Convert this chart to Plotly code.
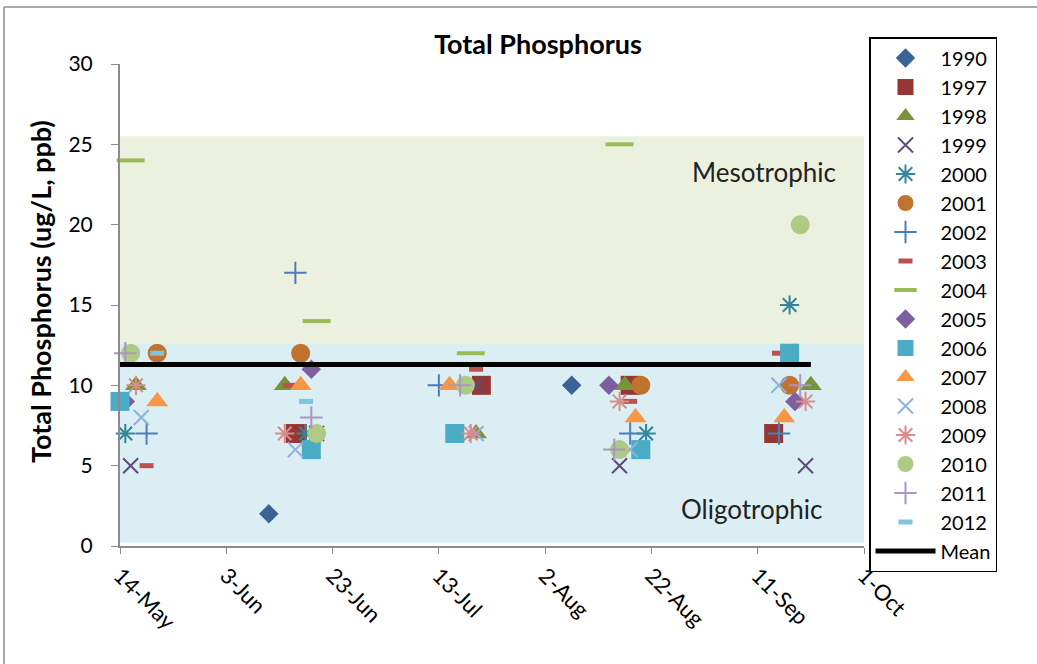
import plotly.graph_objects as go

# ---------------- data ----------------
years = ["1990", "1997", "1998", "1999", "2000", "2001", "2002", "2003", "2004",
         "2005", "2006", "2007", "2008", "2009", "2010", "2011", "2012"]

d1990 = ["2013-06-11", "2013-08-07"]
v1990 = [2, 10]
d1997 = ["2013-06-16", "2013-07-21", "2013-08-18", "2013-09-14"]
v1997 = [7, 10, 10, 7]
d1998 = ["2013-05-17", "2013-06-14", "2013-07-20", "2013-08-17", "2013-09-21"]
v1998 = [10, 10, 7, 10, 10]
d1999 = ["2013-05-16", "2013-06-20", "2013-07-20", "2013-08-16", "2013-09-20"]
v1999 = [5, 7, 10, 5, 5]
d2000 = ["2013-05-15", "2013-06-18", "2013-08-21", "2013-09-17"]
v2000 = [7, 7, 7, 15]
d2001 = ["2013-05-21", "2013-06-17", "2013-08-20", "2013-09-17"]
v2001 = [12, 12, 10, 10]
d2002 = ["2013-05-19", "2013-06-16", "2013-07-13", "2013-08-18", "2013-09-15"]
v2002 = [7, 17, 10, 7, 7]
d2003 = ["2013-05-19", "2013-06-15", "2013-07-20", "2013-08-18", "2013-09-15"]
v2003 = [5, 10, 11, 9, 12]
d2004 = ["2013-05-16", "2013-06-20", "2013-07-19", "2013-08-16"]
v2004 = [24, 14, 12, 25]
d2005 = ["2013-05-15", "2013-06-19", "2013-08-14", "2013-09-18"]
v2005 = [9, 11, 10, 9]
d2006 = ["2013-05-14", "2013-06-19", "2013-07-16", "2013-08-20", "2013-09-17"]
v2006 = [9, 6, 7, 6, 12]
d2007 = ["2013-05-21", "2013-06-17", "2013-07-15", "2013-08-19", "2013-09-16"]
v2007 = [9, 10, 10, 8, 8]
d2008 = ["2013-05-18", "2013-06-16", "2013-07-20", "2013-08-18", "2013-09-15"]
v2008 = [8, 6, 7, 6, 10]
d2009 = ["2013-05-17", "2013-06-14", "2013-07-19", "2013-08-16", "2013-09-20"]
v2009 = [10, 7, 7, 9, 9]
d2010 = ["2013-05-16", "2013-06-20", "2013-07-18", "2013-08-16", "2013-09-19"]
v2010 = [12, 7, 10, 6, 20]
d2011 = ["2013-05-15", "2013-06-19", "2013-07-17", "2013-08-15", "2013-09-19"]
v2011 = [12, 8, 10, 6, 10]
d2012 = ["2013-05-21", "2013-06-18"]
v2012 = [12, 9]

mean_dates = ["2013-05-14", "2013-09-21"]
mean_value = 11.3

oligo_range = [0.2, 12.6]
meso_range = [12.6, 25.5]

x_start = "2013-05-14"
x_end = "2013-10-01"

# ---------------- styles ----------------
styles = {
    "1990": dict(symbol="diamond", color="#3B6396", size=15, lw=0),
    "1997": dict(symbol="square", color="#953735", size=19, lw=0),
    "1998": dict(symbol="triangle-up", color="#77933C", size=19, lw=0),
    "1999": dict(symbol="x-thin-open", color="#604A7B", size=15, lw=2),
    "2000": dict(symbol="asterisk-open", color="#31859C", size=16, lw=2),
    "2001": dict(symbol="circle", color="#C0722E", size=19, lw=0),
    "2002": dict(symbol="cross-thin-open", color="#4A7EBB", size=16, lw=2),
    "2003": dict(symbol="line-ew-open", color="#C0504D", size=10, lw=5),
    "2004": dict(symbol="line-ew-open", color="#9BBB59", size=20, lw=4),
    "2005": dict(symbol="diamond", color="#7D5FA0", size=15, lw=0),
    "2006": dict(symbol="square", color="#4BACC6", size=19, lw=0),
    "2007": dict(symbol="triangle-up", color="#F79646", size=19, lw=0),
    "2008": dict(symbol="x-thin-open", color="#8EB0DA", size=15, lw=2),
    "2009": dict(symbol="asterisk-open", color="#DA8C8A", size=16, lw=2),
    "2010": dict(symbol="circle", color="#AECA84", size=19, lw=0),
    "2011": dict(symbol="cross-thin-open", color="#A996C4", size=16, lw=2),
    "2012": dict(symbol="line-ew-open", color="#7FC4D9", size=10, lw=5),
}

data = {
    "1990": (d1990, v1990), "1997": (d1997, v1997), "1998": (d1998, v1998),
    "1999": (d1999, v1999), "2000": (d2000, v2000), "2001": (d2001, v2001),
    "2002": (d2002, v2002), "2003": (d2003, v2003), "2004": (d2004, v2004),
    "2005": (d2005, v2005), "2006": (d2006, v2006), "2007": (d2007, v2007),
    "2008": (d2008, v2008), "2009": (d2009, v2009), "2010": (d2010, v2010),
    "2011": (d2011, v2011), "2012": (d2012, v2012),
}

FONT = "Lato"

fig = go.Figure()

for y in years:
    d, v = data[y]
    s = styles[y]
    fig.add_trace(go.Scatter(
        x=d, y=v, mode="markers", name=y, cliponaxis=False,
        marker=dict(symbol=s["symbol"], color=s["color"], size=s["size"],
                    line=dict(color=s["color"], width=s["lw"])),
    ))

fig.add_trace(go.Scatter(
    x=mean_dates, y=[mean_value, mean_value], mode="lines", name="Mean",
    line=dict(color="black", width=5),
))

# trophic bands
fig.add_shape(type="rect", xref="paper", yref="y", x0=0, x1=1,
              y0=meso_range[0], y1=meso_range[1], fillcolor="#EBF1DE",
              line=dict(width=0), layer="below")
fig.add_shape(type="rect", xref="paper", yref="y", x0=0, x1=1,
              y0=oligo_range[0], y1=oligo_range[1], fillcolor="#DBEEF4",
              line=dict(width=0), layer="below")

# outer chart border (top and left edges visible)
L, R, T, B = 120, 864, 64, 546
def px_x(p):
    return (p - L) / (R - L)
def px_y(p):
    return (B - p) / (B - T)
fig.add_shape(type="line", xref="paper", yref="paper",
              x0=px_x(4), x1=px_x(1040), y0=px_y(7), y1=px_y(7),
              line=dict(color="#8C8C8C", width=1.5))
fig.add_shape(type="line", xref="paper", yref="paper",
              x0=px_x(4), x1=px_x(4), y0=px_y(7), y1=px_y(670),
              line=dict(color="#8C8C8C", width=1.5))

fig.add_annotation(text="Mesotrophic", xref="paper", yref="y",
                   x=px_x(838), y=23.3, xanchor="right", showarrow=False,
                   font=dict(family=FONT, size=26, color="#222"))
fig.add_annotation(text="Oligotrophic", xref="paper", yref="y",
                   x=px_x(825), y=2.3, xanchor="right", showarrow=False,
                   font=dict(family=FONT, size=26, color="#222"))

# y-axis title
fig.add_annotation(text="<b>Total Phosphorus (ug/L, ppb)</b>", xref="paper",
                   yref="paper", x=px_x(40), y=px_y(292), textangle=-90,
                   xanchor="center", yanchor="middle", showarrow=False,
                   font=dict(family=FONT, size=27, color="black"))

fig.update_layout(
    width=1037, height=664,
    margin=dict(l=L, r=1037 - R, t=T, b=664 - B),
    paper_bgcolor="white", plot_bgcolor="white",
    font=dict(family=FONT, size=20, color="black"),
    title=dict(text="<b>Total Phosphorus</b>", xref="paper", x=px_x(538),
               xanchor="center", y=1 - 45 / 664, yanchor="middle",
               font=dict(family=FONT, size=27, color="black")),
    showlegend=True,
    legend=dict(x=px_x(869), y=px_y(37), xanchor="left", yanchor="top",
                bordercolor="black", borderwidth=1.5, bgcolor="white",
                font=dict(family=FONT, size=20), itemwidth=60,
                entrywidth=90, tracegroupgap=0, maxheight=640),
    xaxis=dict(type="date", range=[x_start, x_end],
               tick0=x_start, dtick=20 * 86400000, tickformat="%-d-%b",
               tickangle=45, ticks="outside", ticklen=6, tickcolor="#8C8C8C",
               showline=True, linecolor="#8C8C8C", linewidth=2,
               showgrid=False, zeroline=False,
               tickfont=dict(family=FONT, size=22)),
    yaxis=dict(range=[0, 30], dtick=5, ticks="outside", ticklen=7,
               tickcolor="#8C8C8C", showline=True, linecolor="#8C8C8C",
               linewidth=2, showgrid=False, zeroline=False,
               ticklabelstandoff=14,
               tickfont=dict(family=FONT, size=21)),
)

fig.write_html("out.html")
